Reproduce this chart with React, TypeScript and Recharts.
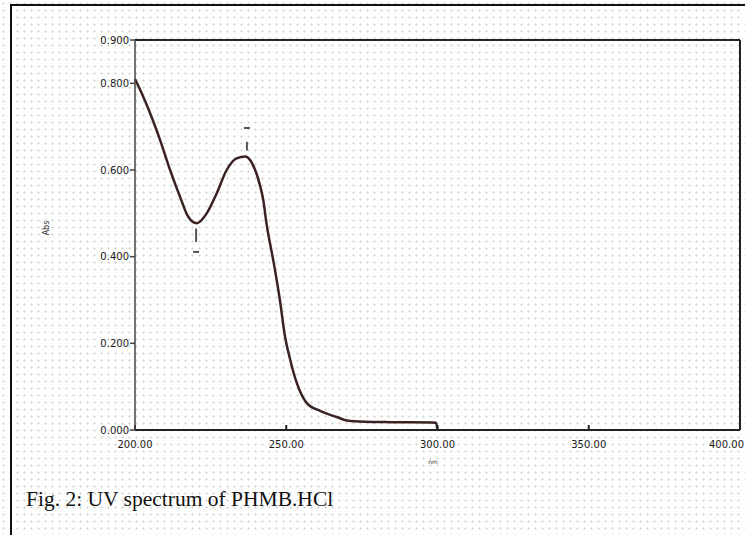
import React from 'react';
import { LineChart, Line, XAxis, YAxis, ReferenceLine } from 'recharts';

// Wavelength (nm) and absorbance
const wavelengths = [200, 201.7, 205, 208.3, 211.6, 214.9, 217.6, 220.4, 223.7, 227, 230.3, 233.6, 236.5, 238.8, 241.3, 242.4, 243.5, 245.7, 247.9, 249.6, 251.2, 253.5, 256.8, 261.2, 266.7, 270, 276, 285, 299.5, 300];
const absorbance = [0.81, 0.785, 0.731, 0.669, 0.6, 0.538, 0.492, 0.477, 0.5, 0.546, 0.6, 0.627, 0.631, 0.614, 0.565, 0.531, 0.475, 0.392, 0.3, 0.215, 0.165, 0.108, 0.062, 0.044, 0.03, 0.022, 0.019, 0.018, 0.017, 0.0];

const xTicks = [200, 250, 300, 350, 400];
const yTicks = [0, 0.2, 0.4, 0.6, 0.8, 0.9];
const rightTicks = [0.2, 0.4, 0.6, 0.8];
const topTicks = [350];

// Peak-pick marks printed by the instrument (wavelength, absorbance range, dash absorbance)
const peakNm = 237;
const peakMark = [0.645, 0.665];
const peakDash = 0.697;
const valleyNm = 220.2;
const valleyMark = [0.434, 0.465];
const valleyDash = 0.411;

const xLabel = 'nm';
const yLabel = 'Abs';
const caption = 'Fig. 2: UV spectrum of PHMB.HCl';

const data = wavelengths.map((w, i) => ({ nm: w, abs: absorbance[i] }));

const tickFont = { fontSize: 10, fontFamily: 'DejaVu Sans', fill: '#1a1a1a' };

const XTick = (props: any) => {
  const { x, y, payload } = props;
  const last = payload.value === 400;
  return (
    <text
      x={last ? 744 : x}
      y={y}
      dy={12}
      textAnchor={last ? 'end' : 'middle'}
      {...tickFont}
    >
      {Number(payload.value).toFixed(2)}
    </text>
  );
};

export default function App() {
  return (
    <div
      style={{
        position: 'absolute',
        left: 0,
        top: 0,
        width: 745,
        height: 535,
        overflow: 'hidden',
        background: '#fff',
        backgroundImage: 'radial-gradient(circle, rgba(140,140,140,0.4) 0.8px, transparent 1.3px)',
        backgroundSize: '7px 7px',
      }}
    >
      <div
        style={{
          position: 'absolute',
          left: 10,
          top: 4,
          width: 745,
          height: 540,
          borderLeft: '2px solid #111',
          borderTop: '2px solid #111',
        }}
      />
      <div style={{ position: 'absolute', left: 0, top: 0 }}>
        <LineChart width={745} height={480} data={data} margin={{ top: 40, right: 5, bottom: 20, left: 75 }}>
          <XAxis
            dataKey="nm"
            type="number"
            domain={[200, 400]}
            ticks={xTicks}
            interval={0}
            tick={<XTick />}
            stroke="#222"
            strokeWidth={2}
            tickSize={-5}
            tickMargin={11}
            height={30}
          />
          <XAxis
            xAxisId="top"
            dataKey="nm"
            type="number"
            orientation="top"
            domain={[200, 400]}
            ticks={topTicks}
            tick={false}
            mirror
            stroke="#222"
            strokeWidth={2}
            tickSize={5}
          />
          <YAxis
            dataKey="abs"
            type="number"
            domain={[0, 0.9]}
            ticks={yTicks}
            interval={0}
            tickFormatter={(v: number) => v.toFixed(3)}
            tick={tickFont}
            stroke="#444"
            strokeWidth={1.5}
            tickSize={5}
            tickMargin={1}
            width={60}
          />
          <YAxis
            yAxisId="right"
            orientation="right"
            type="number"
            domain={[0, 0.9]}
            ticks={rightTicks}
            tick={false}
            mirror
            stroke="#222"
            strokeWidth={2}
            tickSize={5}
          />
          <ReferenceLine segment={[{ x: peakNm, y: peakMark[0] }, { x: peakNm, y: peakMark[1] }]} stroke="#555" strokeWidth={2} />
          <ReferenceLine segment={[{ x: peakNm - 1, y: peakDash }, { x: peakNm + 1, y: peakDash }]} stroke="#555" strokeWidth={2} />
          <ReferenceLine segment={[{ x: valleyNm, y: valleyMark[0] }, { x: valleyNm, y: valleyMark[1] }]} stroke="#555" strokeWidth={2} />
          <ReferenceLine segment={[{ x: valleyNm - 1, y: valleyDash }, { x: valleyNm + 1, y: valleyDash }]} stroke="#555" strokeWidth={2} />
          <Line
            dataKey="abs"
            type="monotone"
            stroke="#3a2222"
            strokeWidth={2.5}
            dot={false}
            isAnimationActive={false}
          />
        </LineChart>
      </div>
      <div
        style={{
          position: 'absolute',
          left: 46,
          top: 228,
          transform: 'translate(-50%, -50%) rotate(-90deg)',
          fontFamily: 'DejaVu Sans',
          fontSize: 8,
          color: '#333',
        }}
      >
        {yLabel}
      </div>
      <div
        style={{
          position: 'absolute',
          left: 433,
          top: 461,
          transform: 'translate(-50%, -50%)',
          fontFamily: 'DejaVu Sans',
          fontSize: 6,
          color: '#333',
        }}
      >
        {xLabel}
      </div>
      <div
        style={{
          position: 'absolute',
          left: 26,
          top: 487,
          fontFamily: '"Liberation Serif", serif',
          fontSize: 21.5,
          color: '#111',
          whiteSpace: 'nowrap',
        }}
      >
        {caption}
      </div>
    </div>
  );
}
